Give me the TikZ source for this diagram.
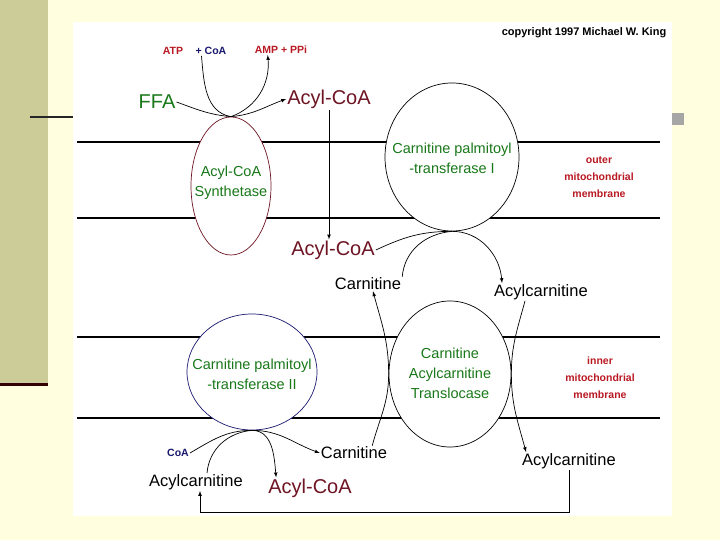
\documentclass[tikz,border=0pt]{standalone}
\usepackage{fontspec}
\setmainfont{Liberation Sans}
\usetikzlibrary{shapes.geometric}
\definecolor{cream}{RGB}{255,255,224}
\definecolor{olive}{RGB}{204,204,153}
\definecolor{maroon}{RGB}{110,20,35}
\definecolor{enzgreen}{RGB}{25,120,25}
\definecolor{redtxt}{RGB}{185,25,35}
\definecolor{navy}{RGB}{25,25,110}
\begin{document}
\begin{tikzpicture}[x=1pt,y=1pt,
    cell/.style={draw,ellipse,fill=white,inner sep=0pt,line width=0.7pt},
    enz/.style={text=enzgreen,align=center,font=\fontsize{14.5}{20}\selectfont},
    bigmetab/.style={font=\fontsize{20}{24}\selectfont,inner sep=1pt},
    metab/.style={font=\fontsize{16.5}{20}\selectfont,inner sep=1pt},
    memtxt/.style={font=\bfseries\fontsize{10.5}{17}\selectfont,inner sep=1pt,align=center},
    flow/.style={line width=0.7pt}]
    \useasboundingbox (0,0) rectangle (720,540);
    % slide background
    \fill[cream] (0,0) rectangle (720,540);
    \fill[olive] (0,157) rectangle (48,540);
    \fill[black!80!red] (0,154) rectangle (48,157);
    \draw[line width=2pt,black!85] (30,423)--(73,423);
    \fill[gray!70] (672,415) rectangle (684,427);
    \fill[white] (73,24) rectangle (672,518);
    % membranes
    \foreach \y in {398,322,203,122}
        \draw[line width=1.2pt] (77,\y)--(660,\y);
    % enzymes
    \node[cell,draw=maroon,minimum width=80pt,minimum height=138pt] (syn) at (231,354) {};
    \node[cell,minimum width=134pt,minimum height=148pt] (cpta) at (452,383) {};
    \node[cell,minimum width=122pt,minimum height=146pt] (trans) at (450,166) {};
    \node[cell,draw=navy,minimum width=130pt,minimum height=116pt] (cptb) at (252,168) {};
    \node[enz] (synText) at (231,357) {Acyl-CoA\\Synthetase};
    \node[enz] (cptaText) at (452,382) {Carnitine palmitoyl\\-transferase I};
    \node[enz] (transText) at (450,167) {Carnitine\\Acylcarnitine\\Translocase};
    \node[enz] (cptbText) at (252,166) {Carnitine palmitoyl\\-transferase II};
    % labels
    \node[font=\bfseries\fontsize{11}{13}\selectfont] (copy) at (584,507) {copyright 1997 Michael W. King};
    \node[memtxt,text=redtxt] (atp) at (173,489) {ATP};
    \node[memtxt,text=navy] (coaA) at (211,489) {+ CoA};
    \node[memtxt,text=redtxt] (amp) at (281,490) {AMP + PPi};
    \node[bigmetab,text=enzgreen] (ffa) at (157,438) {FFA};
    \node[bigmetab,text=maroon] (acoaA) at (329,441) {Acyl-CoA};
    \node[bigmetab,text=maroon] (acoaB) at (333,290) {Acyl-CoA};
    \node[metab] (carnA) at (368,256) {Carnitine};
    \node[metab] (acarnA) at (541,248) {Acylcarnitine};
    \node[memtxt,text=redtxt] (outer) at (599,363) {outer\\mitochondrial\\membrane};
    \node[memtxt,text=redtxt] (inner) at (600,162) {inner\\mitochondrial\\membrane};
    \node[memtxt,text=navy] (coaB) at (178,87) {CoA};
    \node[metab] (carnB) at (354,87) {Carnitine};
    \node[metab] (acarnC) at (569,79) {Acylcarnitine};
    \node[metab] (acarnB) at (196,58) {Acylcarnitine};
    \node[bigmetab,text=maroon] (acoaC) at (310,52) {Acyl-CoA};
    \coordinate (base) at (0,28);
    % acyl-CoA synthetase
    \draw[flow] ([xshift=7pt]coaA.south west) to[out=-85,in=170] (syn.north);
    \draw[flow,-latex] (syn.north) to[out=20,in=-85] ([xshift=14pt]amp.south west);
    \draw[flow] (ffa.east) to[out=-20,in=175] (syn.north);
    \draw[flow,-latex] (syn.north) to[out=5,in=200] (acoaA.west);
    \draw[flow,-latex] (acoaA.south) -- (acoaA.south |- acoaB.north);
    % CPT I
    \draw[flow,-latex] (acoaB.east) to[out=25,in=180] (cpta.south) to[out=0,in=95] ([xshift=9pt]acarnA.north west);
    \draw[flow] (carnA.north east) to[out=85,in=185] (cpta.south);
    % translocase
    \draw[flow,-latex] ([xshift=-16pt]carnB.north east) to[out=75,in=-90] (trans.west) to[out=90,in=-75] ([xshift=5pt]carnA.south);
    \draw[flow,-latex] ([xshift=-16pt]acarnA.south) to[out=-105,in=90] (trans.east) to[out=-90,in=105] ([xshift=5pt]acarnC.north west);
    % CPT II
    \draw[flow] (coaB.east) to[out=30,in=180] (cptb.south);
    \draw[flow] ([xshift=11pt]acarnB.north) to[out=85,in=185] (cptb.south);
    \draw[flow,-latex] (cptb.south) to[out=0,in=95] ([xshift=9pt]acoaC.north west);
    \draw[flow,-latex] (cptb.south) to[out=0,in=160] (carnB.west);
    % back to CPT II
    \draw[flow,-latex] (acarnC.south) -- (acarnC.south |- base) -| ([xshift=4pt]acarnB.south);
\end{tikzpicture}
\end{document}
